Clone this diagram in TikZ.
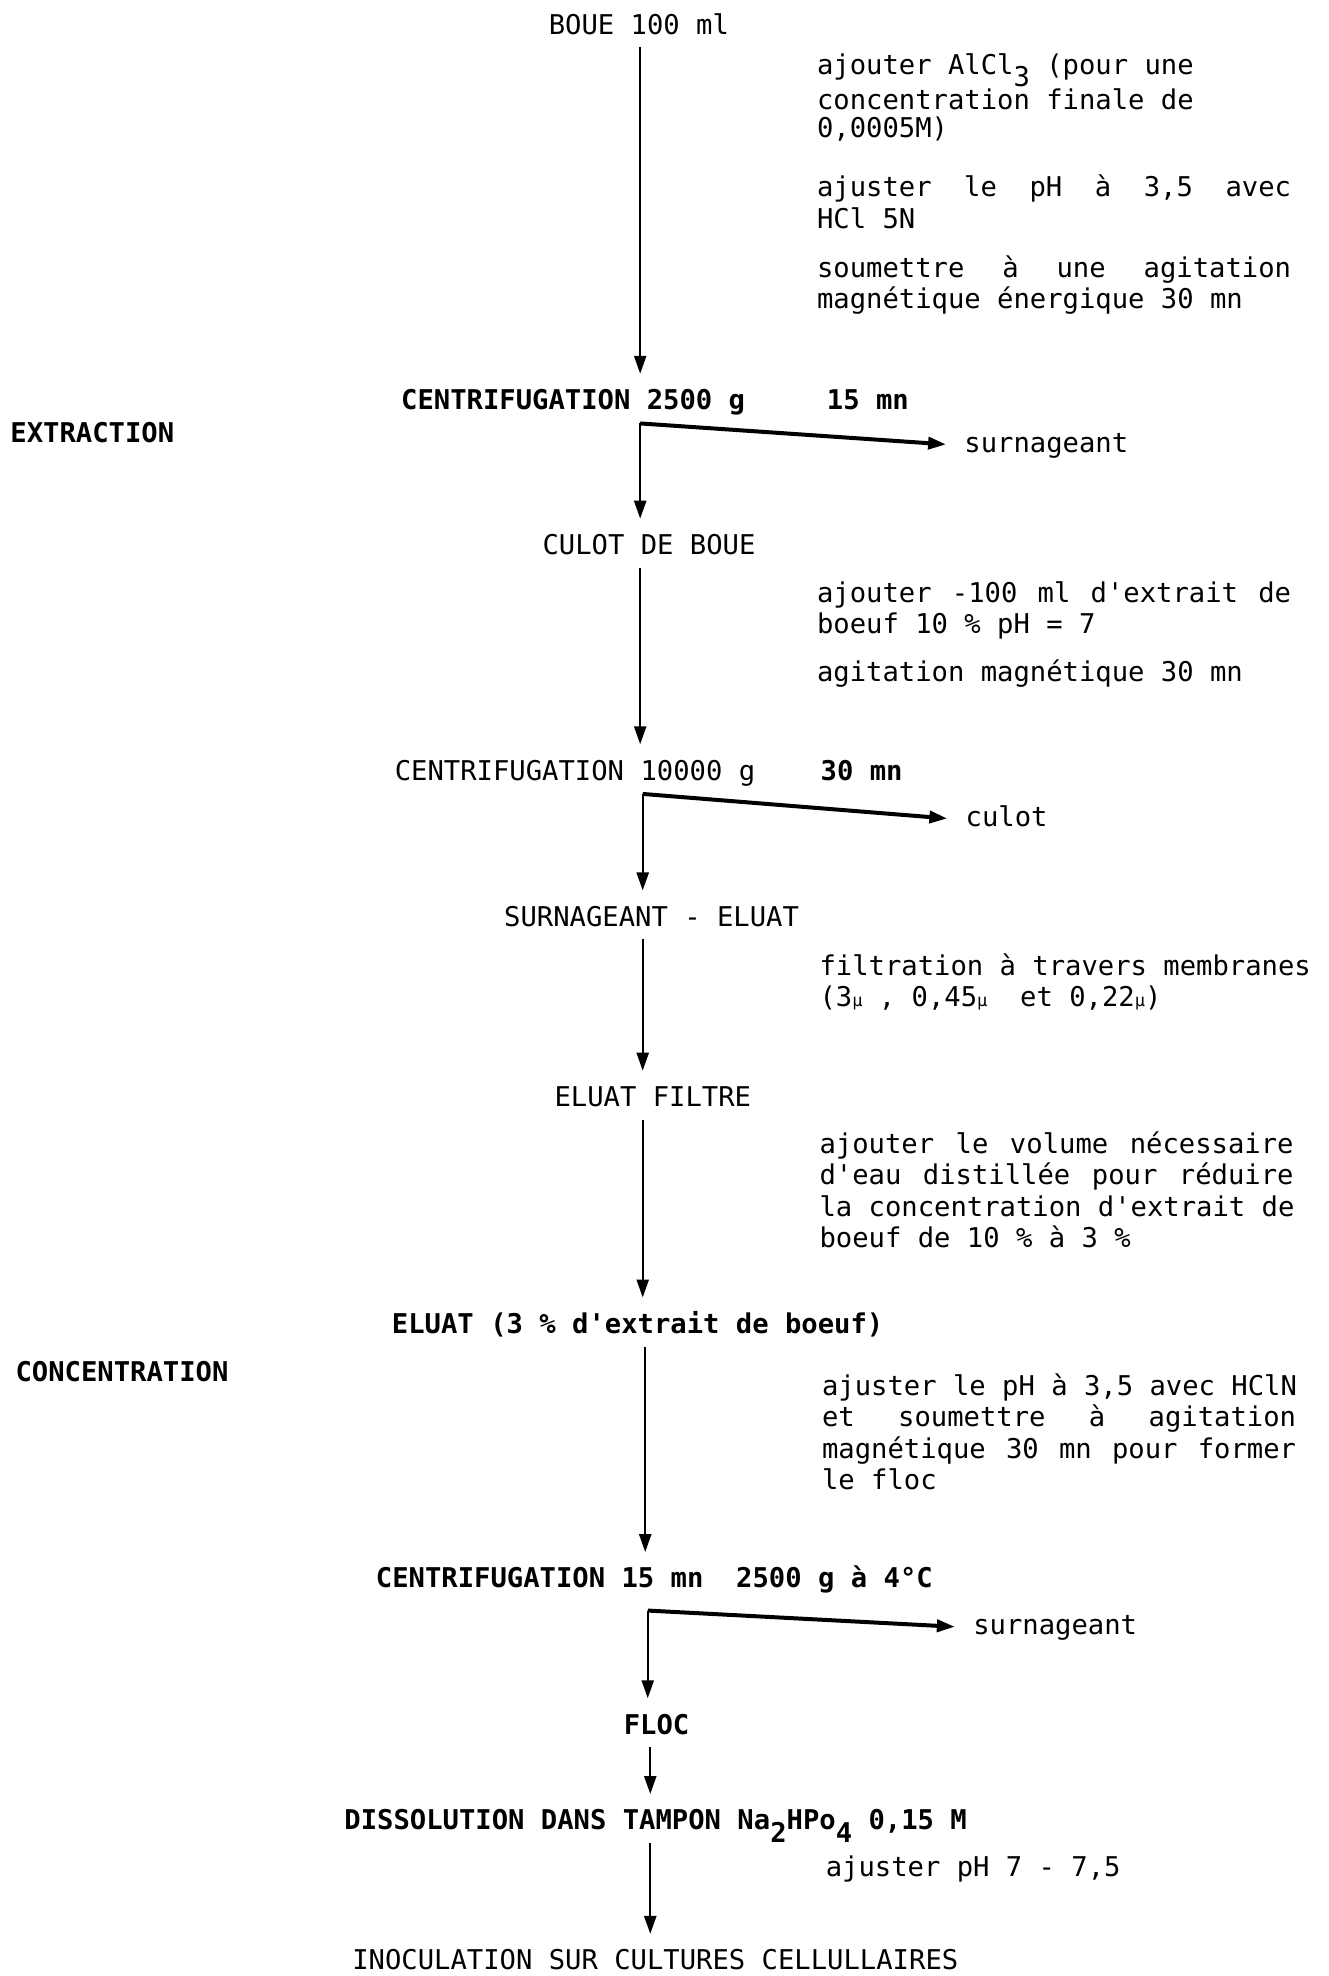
\documentclass[tikz,border=0pt]{standalone}
\usepackage{fontspec}
\setmonofont{DejaVu Sans Mono}
\usetikzlibrary{arrows.meta}

\newcommand\tw{\fontsize{13.6}{15.75}\selectfont\ttfamily}
\newcommand\twserre{\fontsize{13.6}{13.86}\selectfont\ttfamily}
\newcommand\low[1]{\raisebox{-0.45em}{#1}}
\newcommand\micro{{\fontsize{8.5}{8.5}\selectfont µ}}
\newcommand\jl[1]{\makebox[237pt][s]{\spaceskip=\fontdimen2\font plus 1fil\relax #1}}

\begin{document}
\begin{tikzpicture}[x=0.63pt,y=-0.63pt,
  etape/.style={font=\tw,anchor=base,inner xsep=0pt,inner ysep=3pt,text height=10.2pt,text depth=3.4pt},
  etapeb/.style={etape,font=\tw\bfseries},
  note/.style={font=\tw,anchor=base west,inner sep=0pt,align=left},
  flow/.style={-{Triangle[length=9pt,width=6pt]},line width=1.2pt,shorten >=4.5pt},
  sortie/.style={flow,line width=2pt,shorten >=9pt}]

  \useasboundingbox (0,0) rectangle (1054,1568);

  % axe principal
  \coordinate (ax1) at (508,0);
  \coordinate (ax2) at (510,0);
  \coordinate (ax3) at (512,0);
  \coordinate (ax4) at (516,0);
  \coordinate (k1) at (508,336);
  \coordinate (k2) at (510,630);
  \coordinate (k3) at (514,1278);

  % etapes
  \node[etape] (boue) at (507,27) {BOUE 100 ml};
  \node[etapeb,anchor=base west] (centri1) at (318,325) {CENTRIFUGATION 2500 g~~~~~15 mn};
  \node[etape,anchor=base west] (surn1) at (765,359) {surnageant};
  \node[etape] (culot) at (515,440) {CULOT DE BOUE};
  \node[etape,anchor=base west] (centri2) at (313,619) {CENTRIFUGATION 10000 g~~~~\textbf{30 mn}};
  \node[etape,anchor=base west] (culot2) at (766,656) {culot};
  \node[etape] (eluat) at (517,735) {SURNAGEANT - ELUAT};
  \node[etape] (filtre) at (518,878) {ELUAT FILTRE};
  \node[etapeb] (eluat3) at (506,1058) {ELUAT (3 \% d'extrait de boeuf)};
  \node[etapeb,anchor=base west] (centri3) at (298,1260) {CENTRIFUGATION 15 mn~~2500 g à 4°C};
  \node[etape,anchor=base west] (surn3) at (772,1297) {surnageant};
  \node[etapeb] (floc) at (521,1376) {FLOC};
  \node[etapeb,anchor=base west] (dissol) at (273,1452) {DISSOLUTION DANS TAMPON Na\low{2}HPo\low{4} 0,15 M};
  \node[etape] (inoc) at (520,1563) {INOCULATION SUR CULTURES CELLULLAIRES};

  % phases
  \node[etapeb,anchor=base west] (extr) at (8,351) {EXTRACTION};
  \node[etapeb,anchor=base west] (conc) at (12,1096) {CONCENTRATION};

  % operations (ancre sur la derniere ligne)
  \node[note,font=\twserre] (nA1) at (648,109) {ajouter AlCl\low{3} (pour une\\concentration finale de\\0,0005M)};
  \node[note] (nA2) at (648,181) {\jl{ajuster le pH à 3,5 avec}\\HCl 5N};
  \node[note] (nA3) at (648,245) {\jl{soumettre à une agitation}\\magnétique énergique 30 mn};
  \node[note] (nB1) at (648,503) {\jl{ajouter -100 ml d'extrait de}\\boeuf 10 \% pH = 7};
  \node[note] (nB2) at (648,541) {agitation magnétique 30 mn};
  \node[note] (nC) at (650,799) {filtration à travers membranes\\(3\micro{} , 0,45\micro{}~ et 0,22\micro)};
  \node[note] (nD) at (650,990) {\jl{ajouter le volume nécessaire}\\\jl{d'eau distillée pour réduire}\\la concentration d'extrait de\\boeuf de 10 \% à 3 \%};
  \node[note] (nE) at (652,1182) {ajuster le pH à 3,5 avec HClN\\\jl{et soumettre à agitation}\\\jl{magnétique 30 mn pour former}\\le floc};
  \node[note] (nF) at (655,1489) {ajuster pH 7 - 7,5};

  % fleches
  \draw[flow] (boue.south -| ax1) -- (centri1.north -| ax1);
  \draw[flow] (k1) -- (culot.north -| k1);
  \draw[sortie] (k1) -- (surn1.west);
  \draw[flow] (culot.south -| ax1) -- (centri2.north -| ax1);
  \draw[flow] (k2) -- (eluat.north -| k2);
  \draw[sortie] (k2) -- (culot2.west);
  \draw[flow] (eluat.south -| ax2) -- (filtre.north -| ax2);
  \draw[flow] (filtre.south -| ax2) -- (eluat3.north -| ax2);
  \draw[flow] (eluat3.south -| ax3) -- (centri3.north -| ax3);
  \draw[flow] (k3) -- (floc.north -| k3);
  \draw[sortie] (k3) -- (surn3.west);
  \draw[flow] (floc.south -| ax4) -- (dissol.north -| ax4);
  \draw[flow] (dissol.south -| ax4) -- (inoc.north -| ax4);
\end{tikzpicture}
\end{document}
